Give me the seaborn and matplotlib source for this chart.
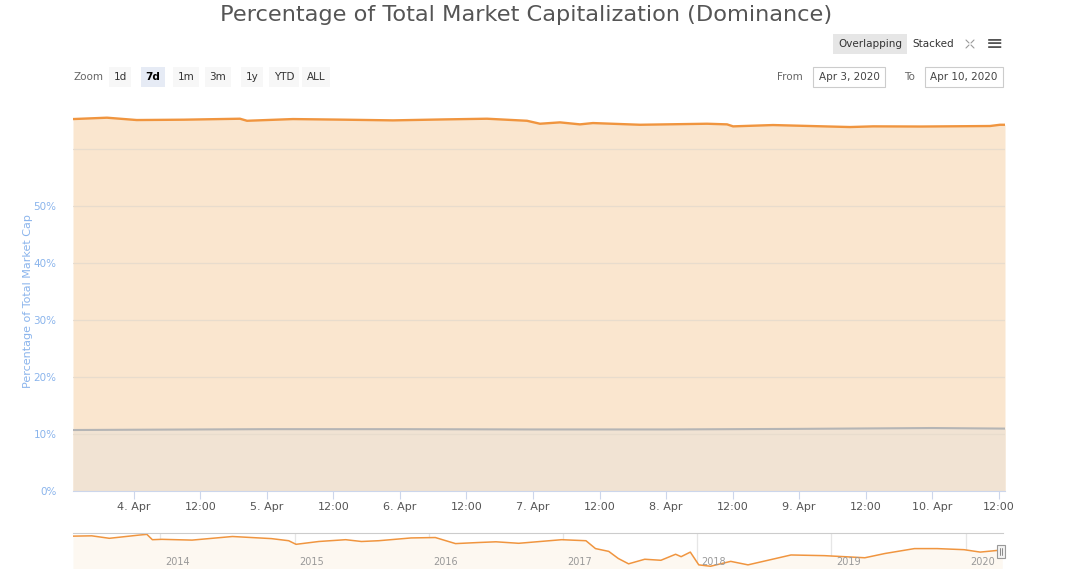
import matplotlib.pyplot as plt
import matplotlib.dates as mdates
import numpy as np
import pandas as pd
import seaborn as sns
from matplotlib.patches import Rectangle
from matplotlib.lines import Line2D

# ---- data ----
btc_times = ["2020-04-03 13:00", "2020-04-03 19:08", "2020-04-04 00:30", "2020-04-04 09:00",
             "2020-04-04 19:08", "2020-04-04 20:24", "2020-04-05 04:41", "2020-04-05 14:00",
             "2020-04-05 22:44", "2020-04-06 08:00", "2020-04-06 15:42", "2020-04-06 22:55",
             "2020-04-07 01:16", "2020-04-07 04:52", "2020-04-07 08:28", "2020-04-07 10:49",
             "2020-04-07 19:19", "2020-04-08 07:24", "2020-04-08 11:01", "2020-04-08 12:06",
             "2020-04-08 19:19", "2020-04-09 09:12", "2020-04-09 13:21", "2020-04-09 22:00",
             "2020-04-10 10:28", "2020-04-10 12:16", "2020-04-10 13:10"]
btc_share = [65.26, 65.50, 65.09, 65.15, 65.32, 64.96, 65.26, 65.15, 65.03, 65.20, 65.32, 64.96,
             64.44, 64.68, 64.33, 64.56, 64.26, 64.44, 64.33, 63.98, 64.21, 63.86, 63.98, 63.95,
             64.04, 64.26, 64.26]

eth_times = ["2020-04-03 13:00", "2020-04-04 00:00", "2020-04-05 00:00", "2020-04-06 00:00",
             "2020-04-07 00:00", "2020-04-08 00:00", "2020-04-09 00:00", "2020-04-10 00:00",
             "2020-04-10 13:10"]
eth_share = [10.70, 10.75, 10.85, 10.85, 10.80, 10.80, 10.90, 11.05, 10.95]

nav_dates = ["2013-05-08", "2013-06-28", "2013-08-15", "2013-11-03", "2013-11-25", "2013-12-10",
             "2014-01-05", "2014-03-28", "2014-07-16", "2014-10-30", "2014-12-16", "2015-01-05",
             "2015-03-08", "2015-05-20", "2015-07-02", "2015-08-18", "2015-11-14", "2016-01-19",
             "2016-03-14", "2016-05-15", "2016-07-02", "2016-09-02", "2016-12-28", "2017-03-04",
             "2017-03-30", "2017-05-05", "2017-05-31", "2017-06-28", "2017-08-11", "2017-09-24",
             "2017-11-03", "2017-11-18", "2017-12-13", "2018-01-05", "2018-02-06", "2018-04-02",
             "2018-05-19", "2018-09-13", "2018-12-13", "2019-04-02", "2019-05-27", "2019-08-15",
             "2019-10-16", "2019-12-28", "2020-02-10", "2020-03-20", "2020-04-10"]
nav_share = [90.9, 91.5, 86.7, 92.9, 94.4, 84.0, 84.7, 83.2, 90.2, 86.1, 82.0, 75.0,
             80.5, 84.0, 80.5, 82.0, 87.4, 88.2, 76.4, 78.5, 79.9, 77.0, 84.0, 82.0,
             66.7, 61.3, 47.5, 37.1, 46.0, 44.0, 55.7, 51.0, 59.9, 35.1, 32.4, 41.9,
             35.1, 54.3, 53.0, 48.9, 57.2, 66.7, 66.7, 64.6, 59.9, 62.6, 64.3]

year_ticks = ["2014", "2015", "2016", "2017", "2018", "2019", "2020"]

btc = pd.DataFrame({"time": pd.to_datetime(btc_times), "share": btc_share})
eth = pd.DataFrame({"time": pd.to_datetime(eth_times), "share": eth_share})
nav = pd.DataFrame({"time": pd.to_datetime(nav_dates), "share": nav_share})

sns.set_style("white")
plt.rcParams["font.family"] = ["DejaVu Sans"]

W, H = 1080, 581
fig = plt.figure(figsize=(W / 100, H / 100), dpi=100)


def box(x0, y0, x1, y1):
    # pixel box -> figure fraction rect
    return [x0 / W, 1 - y1 / H, (x1 - x0) / W, (y1 - y0) / H]


orange = "#f0953f"
orange_fill = "#fae6cf"
gray_line = "#b5b5b5"
gray_fill = "#f1e3d3"
blue_txt = "#8ab4ec"

# ---- main chart ----
ax = fig.add_axes(box(73, 112, 1005, 491))
ax.fill_between(btc["time"], btc["share"], color=orange_fill, lw=0, zorder=1)
ax.fill_between(eth["time"], eth["share"], color=gray_fill, lw=0, zorder=2)
sns.lineplot(data=btc, x="time", y="share", ax=ax, color=orange, lw=1.7, zorder=4)
sns.lineplot(data=eth, x="time", y="share", ax=ax, color=gray_line, lw=1.5, zorder=4)

ax.set_xlim(pd.Timestamp("2020-04-03 13:00"), pd.Timestamp("2020-04-10 13:10"))
ax.set_ylim(0, 66.5)
ax.set_yticks([0, 10, 20, 30, 40, 50, 60])
ax.set_yticklabels(["0%", "10%", "20%", "30%", "40%", "50%", ""], color=blue_txt, fontsize=7.5)
ax.grid(axis="y", color="#e8dccd", lw=0.9, zorder=3)
ax.set_axisbelow(False)

ticks = pd.date_range("2020-04-04", "2020-04-10 12:00", freq="12h")
ax.set_xticks(ticks)
ax.set_xticklabels([f"{t.day}. Apr" if t.hour == 0 else "12:00" for t in ticks],
                   color="#555555", fontsize=8)
ax.tick_params(axis="x", length=6, color="#ccd6eb", pad=2, bottom=True)
ax.tick_params(axis="y", length=0, pad=12)
for s in ["top", "right", "left"]:
    ax.spines[s].set_visible(False)
ax.spines["bottom"].set_color("#ccd6eb")
ax.set_xlabel("")
ax.set_ylabel("Percentage of Total Market Cap", color=blue_txt, fontsize=8)
ax.yaxis.set_label_coords(-0.043, 0.5)

# ---- navigator ----
nax = fig.add_axes(box(73, 533, 1003, 568))
nax.fill_between(nav["time"], nav["share"], 0, color="#fdf8f1", lw=0)
sns.lineplot(data=nav, x="time", y="share", ax=nax, color=orange, lw=1.1)
nax.set_xlim(pd.Timestamp("2013-05-08"), pd.Timestamp("2020-04-12"))
nax.set_ylim(29, 97)
nax.set_xticks(pd.to_datetime([f"{y}-01-01" for y in year_ticks]))
nax.set_xticklabels([])
nax.grid(axis="x", color="#e6e6e6", lw=0.9)
nax.tick_params(length=0)
nax.set_yticks([])
nax.set_xlabel("")
nax.set_ylabel("")
for s in ["left", "right", "bottom"]:
    nax.spines[s].set_visible(False)
nax.spines["top"].set_color("#cccccc")
for y in year_ticks:
    nax.text(pd.Timestamp(f"{y}-01-01") + pd.Timedelta(days=12), 40, y,
             fontsize=7, color="#999999", va="center", ha="left")
# handle at right edge
fig.add_artist(Rectangle((997 / W, 1 - 558 / H), 8 / W, 13 / H, facecolor="#f2f2f2",
                         edgecolor="#999999", lw=0.8))
fig.add_artist(Line2D([1000 / W, 1000 / W], [1 - 555 / H, 1 - 548 / H], color="#777777", lw=0.6))
fig.add_artist(Line2D([1002 / W, 1002 / W], [1 - 555 / H, 1 - 548 / H], color="#777777", lw=0.6))

# ---- title and UI texts ----
fig.text(526 / W, 1 - 15 / H, "Percentage of Total Market Capitalization (Dominance)",
         ha="center", va="center", fontsize=16.2, color="#555555")

fig.text(870 / W, 1 - 44 / H, "Overlapping", ha="center", va="center", fontsize=7.5,
         color="#333333", bbox=dict(boxstyle="square,pad=0.45", fc="#e6e6e6", ec="none"))
fig.text(933 / W, 1 - 44 / H, "Stacked", ha="center", va="center", fontsize=7.5, color="#333333")
fig.text(995 / W, 1 - 44 / H, "≡", ha="center", va="center", fontsize=15, color="#555555")
for dx, dy in [(-1, -1), (1, -1), (-1, 1), (1, 1)]:
    cx, cy = 970 + dx * 4, 44 + dy * 4
    fig.add_artist(Line2D([cx / W, (cx - dx * 3) / W], [1 - cy / H, 1 - (cy - dy * 3) / H],
                          color="#999999", lw=0.8))

fig.text(88 / W, 1 - 77 / H, "Zoom", ha="center", va="center", fontsize=7.5, color="#666666")
buttons = ["1d", "7d", "1m", "3m", "1y", "YTD", "ALL"]
bx = [120, 153, 186, 218, 252, 284, 316]
for lab, x in zip(buttons, bx):
    sel = lab == "7d"
    fig.text(x / W, 1 - 77 / H, lab, ha="center", va="center", fontsize=7.5,
             color="#000000" if sel else "#333333", fontweight="bold" if sel else "normal",
             bbox=dict(boxstyle="square,pad=0.45", fc="#e6ebf5" if sel else "#f7f7f7", ec="none"))

fig.text(790 / W, 1 - 77 / H, "From", ha="center", va="center", fontsize=7.5, color="#666666")
fig.text(849 / W, 1 - 77 / H, "Apr 3, 2020", ha="center", va="center", fontsize=7.5,
         color="#444444", bbox=dict(boxstyle="square,pad=0.5", fc="white", ec="#cccccc", lw=0.8))
fig.text(910 / W, 1 - 77 / H, "To", ha="center", va="center", fontsize=7.5, color="#666666")
fig.text(964 / W, 1 - 77 / H, "Apr 10, 2020", ha="center", va="center", fontsize=7.5,
         color="#444444", bbox=dict(boxstyle="square,pad=0.5", fc="white", ec="#cccccc", lw=0.8))

fig.savefig("out.png", dpi=100)
